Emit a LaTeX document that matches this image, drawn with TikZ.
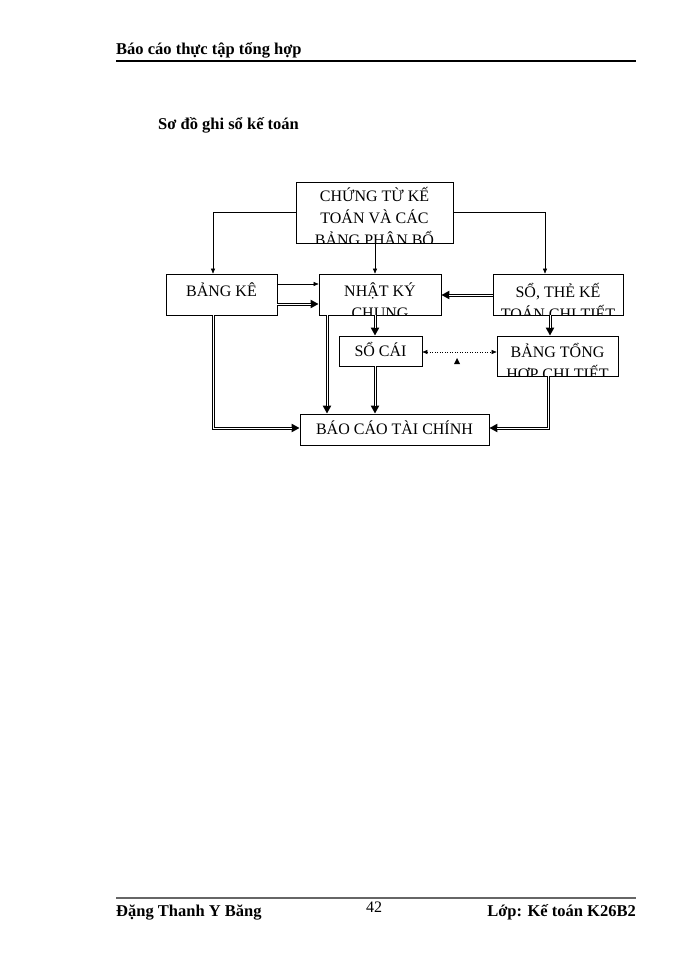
\documentclass[tikz,border=0pt]{standalone}
\usepackage{fontspec}
\setmainfont{Liberation Serif}
\usetikzlibrary{arrows.meta}
\begin{document}
\begin{tikzpicture}[x=1pt,y=-1pt,
  box/.style={draw,line width=0.8pt},
  lbl/.style={font=\fontsize{16}{22}\selectfont,align=center,anchor=north,inner sep=0pt},
  thinarrow/.style={line width=0.5pt,-{Triangle[length=5pt,width=4pt]}},
  dbl/.style={line width=3pt,line join=miter,-{Triangle[length=8pt,width=8pt]},
    postaction={draw=white,line width=1pt,-,line join=miter,shorten >=8pt}},
  hdr/.style={font=\fontsize{16.5}{18}\selectfont\bfseries,inner sep=0pt}]
\useasboundingbox (0,0) rectangle (700,960);
% header / footer
\node[hdr,anchor=base west] (h) at (116,55) {Báo cáo thực tập tổng hợp};
\draw[line width=1.8pt] (116,61) -- (636,61);
\node[hdr,anchor=base west] (s) at (158,130) {Sơ đồ ghi sổ kế toán};
\draw[line width=2.4pt,gray!80!black] (116,898) -- (636,898);
\node[hdr,anchor=base west] (f1) at (116,916) {Đặng Thanh Y Băng};
\node[font=\fontsize{16}{17}\selectfont,anchor=base,inner sep=0pt] (f2) at (374,912) {42};
\node[hdr,anchor=base east] (f3) at (636,916) {Lớp: Kế toán K26B2};
% boxes
\node[box,minimum width=157pt,minimum height=61pt] (ct) at (374.5,212.5) {};
\node[box,minimum width=111pt,minimum height=41pt] (bk) at (221.5,294.5) {};
\node[box,minimum width=122pt,minimum height=41pt] (nk) at (380,294.5) {};
\node[box,minimum width=130pt,minimum height=41pt] (st) at (558,294.5) {};
\node[box,minimum width=83pt,minimum height=30pt] (sc) at (380.5,351) {};
\node[box,minimum width=121pt,minimum height=40pt] (bt) at (557.5,356) {};
\node[box,minimum width=189pt,minimum height=31pt] (bc) at (394.5,429.5) {};
% texts (clipped to boxes)
\begin{scope}\clip (ct.north west) rectangle (ct.south east);
\node[lbl] (t1) at (374.5,187) {CHỨNG TỪ KẾ\\TOÁN VÀ CÁC\\BẢNG PHÂN BỔ};\end{scope}
\node[lbl] (t2) at (221.5,283) {BẢNG KÊ};
\begin{scope}\clip (nk.north west) rectangle (nk.south east);
\node[lbl] (t3) at (380,283) {NHẬT KÝ\\CHUNG};\end{scope}
\begin{scope}\clip (st.north west) rectangle (st.south east);
\node[lbl] (t4) at (558,283) {SỔ, THẺ KẾ\\TOÁN CHI TIẾT};\end{scope}
\node[lbl] (t5) at (380.5,342) {SỔ CÁI};
\begin{scope}\clip (bt.north west) rectangle (bt.south east);
\node[lbl] (t6) at (557.5,343) {BẢNG TỔNG\\HỢP CHI TIẾT};\end{scope}
\node[lbl] (t7) at (394.5,421) {BÁO CÁO TÀI CHÍNH};
% connectors
\draw[thinarrow] (ct.west|-0,212) -| (bk.north-|213,0);
\draw[thinarrow] (ct.east|-0,212) -| (st.north-|545,0);
\draw[thinarrow] (ct.south-|375,0) -- (nk.north-|375,0);
\draw[thinarrow] (bk.east|-0,284) -- (nk.west|-0,284);
\draw[dbl] (bk.east|-0,304) -- (nk.west|-0,304);
\draw[dbl] (st.west|-0,295) -- (nk.east|-0,295);
\draw[dbl] (nk.south-|375,0) -- (sc.north-|375,0);
\draw[dbl] (st.south-|550,0) -- (bt.north-|550,0);
\draw[line width=0.5pt,dotted,{Triangle[length=5pt,width=4pt]}-{Triangle[length=5pt,width=4pt]}] (sc.east|-0,352) -- (bt.west|-0,352);
\fill (454,364) -- (460,364) -- (457,358) -- cycle;
\draw[dbl] (bk.south-|213,0) |- (bc.west|-0,428);
\draw[dbl] (bt.south-|548,0) |- (bc.east|-0,428);
\draw[dbl] (nk.south-|327,0) -- (bc.north-|327,0);
\draw[dbl] (sc.south-|375,0) -- (bc.north-|375,0);
\end{tikzpicture}
\end{document}
